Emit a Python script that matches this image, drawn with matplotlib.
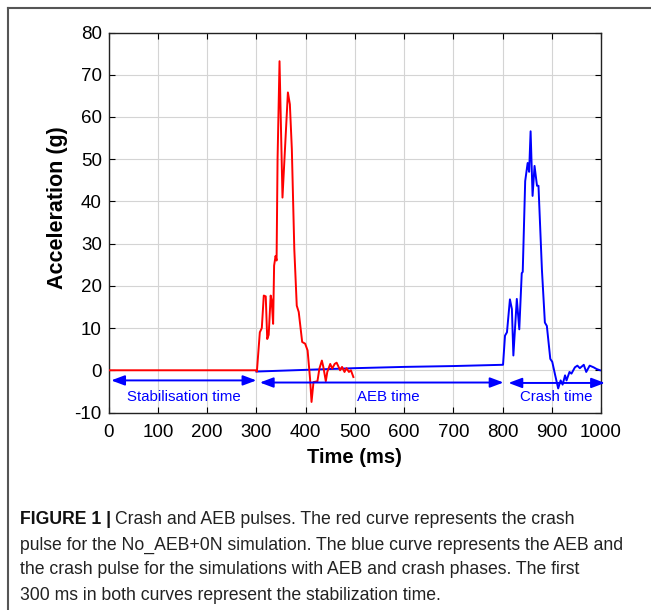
import matplotlib
matplotlib.use('Agg')
import matplotlib.pyplot as plt
from matplotlib.lines import Line2D

plt.rcParams['font.family'] = ['Liberation Sans', 'DejaVu Sans']
plt.rcParams['axes.unicode_minus'] = False

# Crash pulse without AEB (red)
t_red = [0, 300, 301, 307, 311, 315, 319, 322, 325, 329, 331, 334, 336, 339, 341, 343,
         347, 353, 364, 368, 372, 377, 382, 386, 393, 399, 404, 409, 412, 416, 424, 428,
         433, 436, 441, 444, 450, 454, 459, 463, 467, 470, 474, 479, 483, 488, 492, 497]
g_red = [0, 0, -0.3, 9.0, 10.0, 17.7, 17.5, 7.4, 8.4, 17.7, 16.6, 11.0, 24.8, 27.1, 26.0, 50.0,
         73.2, 40.9, 65.8, 63.0, 52.4, 28.7, 15.3, 13.8, 6.7, 6.3, 4.7, -2.0, -7.5, -2.8, -2.6, 0.4,
         2.3, 0.8, -2.6, -0.4, 1.5, 0.4, 1.5, 1.8, 0.8, 0.0, 0.8, -0.4, 0.5, -0.4, 0.0, -1.6]

# AEB + crash pulse (blue)
t_blue = [300, 400, 500, 600, 700, 801, 805, 809, 815, 819, 822, 829, 834, 839, 841, 846,
          851, 854, 857, 861, 865, 870, 873, 880, 886, 890, 897, 901, 907, 913, 918, 922,
          927, 930, 936, 940, 947, 952, 957, 965, 970, 977, 985, 991, 998]
g_blue = [-0.3, 0.1, 0.5, 0.8, 1.0, 1.3, 8.2, 9.0, 16.8, 14.5, 3.5, 16.9, 9.7, 23.0, 23.3, 44.8,
          49.1, 47.0, 56.6, 41.3, 48.4, 43.7, 43.7, 23.8, 11.3, 10.5, 2.7, 2.0, -1.2, -4.3, -2.4, -3.4,
          -1.2, -2.4, -0.4, -0.8, 0.7, 1.1, 0.5, 1.3, -0.4, 1.1, 0.7, 0.3, 0.0]

# Phase annotations
phases = ['Stabilisation time', 'AEB time', 'Crash time']
phase_start = [5, 307, 812]
phase_end = [300, 802, 1008]

x_ticks = list(range(0, 1001, 100))
y_ticks = list(range(-10, 81, 10))

fig = plt.figure(figsize=(6.51, 6.10), dpi=100)
fig.patch.set_facecolor('white')

# partial frame around the figure (top and left edges)
fig.add_artist(Line2D([8 / 651, 1], [1 - 8 / 610, 1 - 8 / 610], transform=fig.transFigure,
                      color='#555555', lw=1.5))
fig.add_artist(Line2D([8 / 651, 8 / 651], [0, 1 - 8 / 610], transform=fig.transFigure,
                      color='#555555', lw=1.5))

ax = fig.add_axes([108.7 / 651, 1 - 412.5 / 610, (601 - 108.7) / 651, 380 / 610])

ax.plot(t_blue, g_blue, color='#0000ff', lw=1.4, zorder=3)
ax.plot(t_red, g_red, color='#ff0000', lw=1.4, zorder=4)

ax.set_xlim(0, 1000)
ax.set_ylim(-10, 80)
ax.set_xticks(x_ticks)
ax.set_yticks(y_ticks)
ax.grid(True, color='#d4d4d4', lw=0.8)
ax.set_axisbelow(True)
ax.tick_params(direction='in', length=4, width=0.8, top=True, right=True,
               labelsize=13.5, colors='black')
ax.tick_params(axis='x', pad=8)
ax.tick_params(axis='y', pad=5)
for s in ax.spines.values():
    s.set_linewidth(1.0)
    s.set_color('#222222')

ax.set_xlabel('Time (ms)', fontsize=14.5, fontweight='bold', labelpad=5)
ax.set_ylabel('Acceleration (g)', fontsize=15.5, fontweight='bold')
ax.yaxis.set_label_coords(-0.082, 0.538)

arrow_y = [-2.4, -2.9, -3.0]
for name, a, b, yy in zip(phases, phase_start, phase_end, arrow_y):
    ax.annotate('', xy=(b, yy), xytext=(a, yy),
                arrowprops=dict(arrowstyle='<|-|>,head_length=0.8,head_width=0.3',
                                color='#0000ff', lw=1.4, shrinkA=0, shrinkB=0),
                annotation_clip=False, zorder=5)
    xm = (a + b) / 2 if name != 'AEB time' else 567
    ax.text(xm, -6.3, name, color='#0000ff', fontsize=10.8, ha='center', va='center', zorder=5)

# caption
lines = ['Crash and AEB pulses. The red curve represents the crash',
         'pulse for the No_AEB+0N simulation. The blue curve represents the AEB and',
         'the crash pulse for the simulations with AEB and crash phases. The first',
         '300 ms in both curves represent the stabilization time.']
line_y = [519, 545, 570, 596]
cap_x = 20 / 651
cap_fs = 12.7
bold = fig.text(cap_x, 1 - line_y[0] / 610, 'FIGURE 1 |', fontsize=cap_fs, fontweight='bold',
                color='#111111', va='center', ha='left')
fig.canvas.draw()
bb = bold.get_window_extent(renderer=fig.canvas.get_renderer())
fig.text(bb.x1 / 651 + 4 / 651, 1 - line_y[0] / 610, lines[0], fontsize=cap_fs,
         color='#222222', va='center', ha='left')
for txt, yy in zip(lines[1:], line_y[1:]):
    fig.text(cap_x, 1 - yy / 610, txt, fontsize=cap_fs, color='#222222', va='center', ha='left')

fig.savefig('out.png', dpi=100)
